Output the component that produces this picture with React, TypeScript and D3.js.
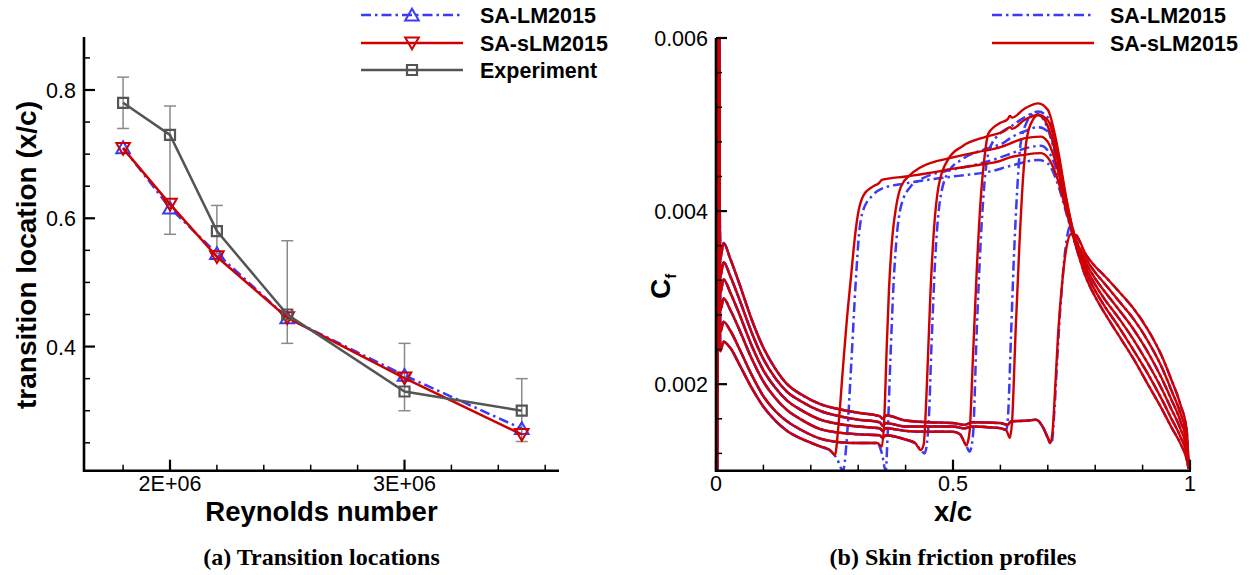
import React from "react";
import * as d3 from "d3";

// ---------------- Panel (a): transition locations ----------------
const reynolds = [1.8e6, 2.0e6, 2.2e6, 2.5e6, 3.0e6, 3.5e6];
const saLM = [0.71, 0.616, 0.545, 0.445, 0.355, 0.272];
const saSLM = [0.709, 0.622, 0.54, 0.445, 0.351, 0.263];
const experiment = [0.78, 0.73, 0.58, 0.45, 0.33, 0.30];
const expLow = [0.74, 0.575, 0.545, 0.405, 0.30, 0.252];
const expHigh = [0.82, 0.775, 0.62, 0.565, 0.405, 0.35];

const reMajor = [2e6, 3e6];
const reMajorLabels = ["2E+06", "3E+06"];
const reMinor = [1.8e6, 2.2e6, 2.4e6, 2.6e6, 2.8e6, 3.2e6, 3.4e6, 3.6e6];
const locMajor = [0.4, 0.6, 0.8];
const locMajorLabels = ["0.4", "0.6", "0.8"];
const locMinor = [0.25, 0.3, 0.35, 0.45, 0.5, 0.55, 0.65, 0.7, 0.75, 0.85];

// ---------------- Panel (b): skin friction (Cf in units of 1e-3) ----------------
const xcMajor = [0, 0.5, 1];
const xcMajorLabels = ["0", "0.5", "1"];
const xcMinor = [0.1, 0.2, 0.3, 0.4, 0.6, 0.7, 0.8, 0.9];
const cfMajor = [2, 4, 6];
const cfMajorLabels = ["0.002", "0.004", "0.006"];
const cfMinor = [1.2, 1.6, 2.4, 2.8, 3.2, 3.6, 4.4, 4.8, 5.2, 5.6];

// Re = 1.8e6
const lam18 = [[0.002, 1.0], [0.005, 7.0], [0.009, 3.45], [0.016, 3.63], [0.03, 3.45], [0.05, 3.15], [0.075, 2.75], [0.1, 2.42], [0.125, 2.18], [0.15, 2.0], [0.18, 1.88], [0.22, 1.77], [0.26, 1.71], [0.3, 1.67], [0.345, 1.63], [0.352, 1.6], [0.358, 1.64], [0.4, 1.58], [0.45, 1.56], [0.5, 1.55], [0.525, 1.53], [0.54, 1.56], [0.6, 1.55], [0.615, 1.53], [0.622, 1.57], [0.66, 1.58], [0.675, 1.59], [0.69, 1.5], [0.7, 1.38], [0.705, 1.32]];
const red18 = [[0.71, 1.45], [0.716, 2.0], [0.722, 2.6], [0.73, 3.15], [0.74, 3.6], [0.75, 3.74]];
const blue18 = [[0.708, 1.32], [0.714, 1.7], [0.72, 2.3], [0.728, 3.0], [0.738, 3.6], [0.747, 3.82]];
const tail18 = [[0.76, 3.72], [0.78, 3.5], [0.8, 3.36], [0.82, 3.25], [0.85, 3.07], [0.88, 2.88], [0.91, 2.64], [0.94, 2.33], [0.96, 2.06], [0.98, 1.76], [0.993, 1.47], [0.997, 1.05]];

// Re = 2.0e6
const lam20 = [[0.002, 1.0], [0.005, 7.0], [0.009, 3.24], [0.016, 3.41], [0.03, 3.25], [0.05, 2.97], [0.075, 2.6], [0.1, 2.29], [0.125, 2.07], [0.15, 1.91], [0.18, 1.8], [0.22, 1.69], [0.26, 1.63], [0.3, 1.59], [0.345, 1.56], [0.352, 1.52], [0.358, 1.55], [0.4, 1.51], [0.45, 1.51], [0.5, 1.51], [0.525, 1.49], [0.54, 1.51], [0.58, 1.5], [0.6, 1.49], [0.612, 1.47]];
const red20 = [[0.62, 1.38], [0.625, 1.6], [0.632, 2.6], [0.64, 3.6], [0.648, 4.4], [0.656, 4.85], [0.668, 5.05], [0.68, 5.11], [0.69, 5.08], [0.7, 4.98], [0.72, 4.6], [0.74, 4.05]];
const blue20 = [[0.616, 1.62], [0.622, 2.5], [0.628, 3.4], [0.635, 4.2], [0.642, 4.75], [0.655, 5.02], [0.672, 5.13], [0.685, 5.1], [0.7, 4.95], [0.72, 4.55], [0.74, 4.02]];
const tail20 = [[0.76, 3.66], [0.78, 3.45], [0.8, 3.29], [0.82, 3.16], [0.85, 2.96], [0.88, 2.76], [0.91, 2.51], [0.94, 2.2], [0.96, 1.94], [0.98, 1.66], [0.993, 1.4], [0.997, 1.05]];

// Re = 2.2e6
const lam22 = [[0.002, 1.0], [0.005, 7.0], [0.009, 3.05], [0.016, 3.21], [0.03, 3.06], [0.05, 2.8], [0.075, 2.45], [0.1, 2.16], [0.125, 1.96], [0.15, 1.81], [0.18, 1.7], [0.22, 1.59], [0.26, 1.54], [0.3, 1.51], [0.345, 1.49], [0.352, 1.46], [0.358, 1.49], [0.4, 1.46], [0.45, 1.45], [0.5, 1.45], [0.515, 1.42], [0.522, 1.35]];
const red22 = [[0.528, 1.29], [0.535, 1.45], [0.542, 2.3], [0.55, 3.3], [0.558, 4.1], [0.566, 4.6], [0.575, 4.9], [0.6, 5.02], [0.615, 5.06], [0.62, 5.1], [0.625, 5.08], [0.65, 5.18], [0.68, 5.245], [0.7, 5.17], [0.72, 4.75], [0.74, 4.12]];
const blue22 = [[0.528, 1.29], [0.535, 1.22], [0.542, 1.4], [0.55, 2.6], [0.558, 3.6], [0.566, 4.3], [0.576, 4.7], [0.6, 4.9], [0.62, 4.97], [0.65, 5.08], [0.68, 5.15], [0.7, 5.08], [0.72, 4.68], [0.74, 4.08]];
const tail22 = [[0.76, 3.63], [0.78, 3.4], [0.8, 3.22], [0.82, 3.07], [0.85, 2.86], [0.88, 2.64], [0.91, 2.38], [0.94, 2.07], [0.96, 1.83], [0.98, 1.57], [0.993, 1.33], [0.997, 1.04]];

// Re = 2.5e6
const lam25 = [[0.002, 1.0], [0.005, 7.0], [0.009, 2.85], [0.016, 2.99], [0.03, 2.86], [0.05, 2.62], [0.075, 2.3], [0.1, 2.03], [0.125, 1.84], [0.15, 1.7], [0.18, 1.59], [0.22, 1.48], [0.26, 1.44], [0.3, 1.42], [0.345, 1.41], [0.352, 1.38], [0.358, 1.41], [0.4, 1.36], [0.42, 1.32]];
const red25 = [[0.432, 1.24], [0.438, 1.3], [0.445, 2.0], [0.452, 3.0], [0.46, 3.8], [0.47, 4.3], [0.49, 4.6], [0.52, 4.75], [0.57, 4.86], [0.61, 4.93], [0.62, 4.97], [0.625, 4.95], [0.65, 5.05], [0.68, 5.11], [0.7, 5.05], [0.72, 4.68], [0.74, 4.1]];
const blue25 = [[0.432, 1.24], [0.44, 1.2], [0.448, 1.5], [0.455, 2.5], [0.462, 3.4], [0.472, 4.1], [0.49, 4.45], [0.52, 4.6], [0.57, 4.72], [0.61, 4.8], [0.62, 4.84], [0.65, 4.92], [0.68, 4.97], [0.7, 4.92], [0.72, 4.6], [0.74, 4.05]];
const tail25 = [[0.76, 3.62], [0.78, 3.35], [0.8, 3.15], [0.82, 2.98], [0.85, 2.76], [0.88, 2.52], [0.91, 2.25], [0.94, 1.95], [0.96, 1.72], [0.98, 1.48], [0.993, 1.26], [0.997, 1.04]];

// Re = 3.0e6
const lam30 = [[0.002, 1.0], [0.005, 7.0], [0.009, 2.6], [0.016, 2.72], [0.03, 2.62], [0.05, 2.4], [0.075, 2.11], [0.1, 1.86], [0.125, 1.69], [0.15, 1.57], [0.18, 1.47], [0.22, 1.37], [0.26, 1.33], [0.3, 1.32], [0.34, 1.32]];
const red30 = [[0.35, 1.28], [0.355, 1.6], [0.36, 2.4], [0.365, 3.1], [0.372, 3.7], [0.38, 4.05], [0.39, 4.28], [0.41, 4.42], [0.43, 4.5], [0.5, 4.62], [0.55, 4.68], [0.6, 4.74], [0.62, 4.78], [0.65, 4.84], [0.685, 4.86], [0.7, 4.8], [0.72, 4.5], [0.74, 4.02]];
const blue30 = [[0.35, 1.2], [0.358, 1.0], [0.362, 1.4], [0.368, 2.3], [0.375, 3.2], [0.382, 3.75], [0.39, 4.05], [0.41, 4.28], [0.43, 4.36], [0.5, 4.48], [0.55, 4.54], [0.6, 4.62], [0.62, 4.66], [0.65, 4.72], [0.685, 4.755], [0.7, 4.7], [0.72, 4.45], [0.74, 4.0]];
const tail30 = [[0.76, 3.6], [0.78, 3.3], [0.8, 3.08], [0.82, 2.9], [0.85, 2.66], [0.88, 2.4], [0.91, 2.13], [0.94, 1.83], [0.96, 1.61], [0.98, 1.39], [0.993, 1.19], [0.997, 1.03]];

// Re = 3.5e6
const lam35 = [[0.002, 1.0], [0.005, 7.0], [0.009, 2.38], [0.016, 2.49], [0.03, 2.42], [0.05, 2.22], [0.075, 1.96], [0.1, 1.74], [0.125, 1.58], [0.15, 1.46], [0.18, 1.37], [0.22, 1.28], [0.24, 1.24]];
const red35 = [[0.251, 1.18], [0.258, 1.5], [0.268, 2.2], [0.276, 2.74], [0.285, 3.25], [0.293, 3.7], [0.3, 3.98], [0.311, 4.18], [0.33, 4.28], [0.345, 4.33], [0.35, 4.36], [0.4, 4.4], [0.45, 4.44], [0.5, 4.49], [0.55, 4.53], [0.6, 4.58], [0.62, 4.62], [0.65, 4.65], [0.685, 4.67], [0.7, 4.62], [0.72, 4.38], [0.74, 3.98]];
const blue35 = [[0.255, 1.14], [0.268, 1.0], [0.275, 1.3], [0.285, 2.2], [0.295, 3.2], [0.302, 3.75], [0.31, 4.0], [0.33, 4.18], [0.35, 4.26], [0.4, 4.32], [0.5, 4.4], [0.58, 4.46], [0.62, 4.52], [0.68, 4.59], [0.7, 4.55], [0.72, 4.33], [0.74, 3.96]];
const tail35 = [[0.76, 3.58], [0.78, 3.24], [0.8, 3.01], [0.82, 2.82], [0.85, 2.56], [0.88, 2.3], [0.91, 2.01], [0.94, 1.72], [0.96, 1.51], [0.98, 1.31], [0.993, 1.13], [0.997, 1.02]];

const cases = [
  { lam: lam18, red: red18, blue: blue18, tail: tail18 },
  { lam: lam20, red: red20, blue: blue20, tail: tail20 },
  { lam: lam22, red: red22, blue: blue22, tail: tail22 },
  { lam: lam25, red: red25, blue: blue25, tail: tail25 },
  { lam: lam30, red: red30, blue: blue30, tail: tail30 },
  { lam: lam35, red: red35, blue: blue35, tail: tail35 },
];

const BLUE = "#3b3bf5";
const RED = "#d10000";
const GRAY = "#555555";
const ERR = "#8a8a8a";
const DASHDOT = "10,4,2.5,4";
const SANS = '"Liberation Sans", Arial, Helvetica, sans-serif';
const SERIF = '"Liberation Serif", "Times New Roman", serif';

export default function App() {
  const xa = d3.scaleLinear().domain([1.6333e6, 3.6588e6]).range([84, 559]);
  const ya = d3.scaleLinear().domain([0.2065, 0.8826]).range([470.7, 37]);
  const xb = d3.scaleLinear().domain([0, 1]).range([716, 1190]);
  const yb = d3.scaleLinear().domain([1, 6]).range([470.7, 38]);

  const lineA = d3.line<[number, number]>().x((d) => xa(d[0])).y((d) => ya(d[1]));
  const lineB = d3
    .line<number[]>()
    .x((d) => xb(d[0]))
    .y((d) => yb(d[1]))
    .curve(d3.curveMonotoneX);

  const ptsLM = reynolds.map((r, i) => [r, saLM[i]] as [number, number]);
  const ptsSLM = reynolds.map((r, i) => [r, saSLM[i]] as [number, number]);
  const ptsExp = reynolds.map((r, i) => [r, experiment[i]] as [number, number]);

  const triUp = d3.symbol(d3.symbolTriangle, 80)()!;
  const square = d3.symbol(d3.symbolSquare, 100)()!;

  const axisW = 2.6;
  const tickFont = 21.5;
  const titleFont = 27.5;

  const mUp = (x: number, y: number, key: string, color: string) => (
    <path key={key} d={triUp} transform={`translate(${x},${y + 1.5})`} fill="none" stroke={color} strokeWidth={2} />
  );
  const mDown = (x: number, y: number, key: string, color: string) => (
    <path key={key} d={triUp} transform={`translate(${x},${y - 1.5}) rotate(180)`} fill="none" stroke={color} strokeWidth={2} />
  );
  const mSq = (x: number, y: number, key: string) => (
    <path key={key} d={square} transform={`translate(${x},${y})`} fill="#ffffff" fillOpacity={0} stroke={GRAY} strokeWidth={2.2} />
  );

  return (
    <svg width={1251} height={575} style={{ position: "absolute", left: 0, top: 0, background: "#fff" }}>
      <defs>
        <clipPath id="clipB">
          <rect x={716} y={38} width={476} height={433} />
        </clipPath>
        <clipPath id="clipA">
          <rect x={84} y={37} width={476} height={434} />
        </clipPath>
      </defs>

      {/* ================= Panel (a) ================= */}
      <g clipPath="url(#clipA)">
        {reynolds.map((r, i) => (
          <g key={"eb" + i} stroke={ERR} strokeWidth={1.5}>
            <line x1={xa(r)} x2={xa(r)} y1={ya(expLow[i])} y2={ya(expHigh[i])} />
            <line x1={xa(r) - 6} x2={xa(r) + 6} y1={ya(expLow[i])} y2={ya(expLow[i])} />
            <line x1={xa(r) - 6} x2={xa(r) + 6} y1={ya(expHigh[i])} y2={ya(expHigh[i])} />
          </g>
        ))}
        <path d={lineA(ptsLM)!} fill="none" stroke={BLUE} strokeWidth={2.5} strokeDasharray={DASHDOT} />
        {ptsLM.map((p, i) => mUp(xa(p[0]), ya(p[1]), "u" + i, BLUE))}
        <path d={lineA(ptsSLM)!} fill="none" stroke={RED} strokeWidth={2.5} />
        {ptsSLM.map((p, i) => mDown(xa(p[0]), ya(p[1]), "d" + i, RED))}
        <path d={lineA(ptsExp)!} fill="none" stroke={GRAY} strokeWidth={2.5} />
        {ptsExp.map((p, i) => mSq(xa(p[0]), ya(p[1]), "s" + i))}
      </g>

      {/* axes (a) */}
      <g stroke="#000" strokeWidth={1.5}>
        {locMajor.map((v) => (
          <line key={"lm" + v} x1={84} x2={95} y1={ya(v)} y2={ya(v)} strokeWidth={2.2} />
        ))}
        {locMinor.map((v) => (
          <line key={"ln" + v} x1={84} x2={90} y1={ya(v)} y2={ya(v)} />
        ))}
        {reMajor.map((v) => (
          <line key={"rm" + v} x1={xa(v)} x2={xa(v)} y1={470.7} y2={459.7} strokeWidth={2.2} />
        ))}
        {reMinor.map((v) => (
          <line key={"rn" + v} x1={xa(v)} x2={xa(v)} y1={470.7} y2={464.7} />
        ))}
      </g>
      <line x1={84} x2={84} y1={37} y2={472} stroke="#000" strokeWidth={axisW} />
      <line x1={83} x2={559} y1={470.7} y2={470.7} stroke="#000" strokeWidth={axisW} />
      <g fontFamily={SANS} fontSize={tickFont} fill="#000">
        {locMajor.map((v, i) => (
          <text key={"lt" + v} x={76} y={ya(v) + 8} textAnchor="end">{locMajorLabels[i]}</text>
        ))}
        {reMajor.map((v, i) => (
          <text key={"rt" + v} x={xa(v)} y={491} textAnchor="middle">{reMajorLabels[i]}</text>
        ))}
      </g>
      <text x={321.5} y={521} textAnchor="middle" fontFamily={SANS} fontWeight="bold" fontSize={titleFont}>Reynolds number</text>
      <text transform="translate(36,255) rotate(-90)" textAnchor="middle" fontFamily={SANS} fontWeight="bold" fontSize={28}>transition location (x/c)</text>
      <text x={321.5} y={565} textAnchor="middle" fontFamily={SERIF} fontWeight="bold" fontSize={24}>(a) Transition locations</text>

      {/* legend (a) */}
      <g>
        <line x1={361} x2={463} y1={15} y2={15} stroke={BLUE} strokeWidth={2.5} strokeDasharray={DASHDOT} />
        {mUp(412, 15, "lg1", BLUE)}
        <line x1={361} x2={463} y1={43} y2={43} stroke={RED} strokeWidth={2.5} />
        {mDown(412, 43, "lg2", RED)}
        <line x1={361} x2={463} y1={70} y2={70} stroke={GRAY} strokeWidth={2.5} />
        {mSq(412, 70, "lg3")}
        <g fontFamily={SANS} fontWeight="bold" fontSize={21.5}>
          <text x={480} y={22.7}>SA-LM2015</text>
          <text x={480} y={50.7}>SA-sLM2015</text>
          <text x={480} y={77.7}>Experiment</text>
        </g>
      </g>

      {/* ================= Panel (b) ================= */}
      <g clipPath="url(#clipB)" fill="none" strokeLinejoin="round">
        {cases.map((c, i) => (
          <path key={"b" + i} d={lineB([...c.lam, ...c.blue, ...c.tail])!} stroke={BLUE} strokeWidth={2.5} strokeDasharray={DASHDOT} />
        ))}
        {cases.map((c, i) => (
          <path key={"bl" + i} d={lineB(c.lam)!} stroke={BLUE} strokeWidth={2.5} />
        ))}
        {cases.map((c, i) => (
          <path key={"r" + i} d={lineB([...c.lam, ...c.red, ...c.tail])!} stroke={RED} strokeWidth={2.4} />
        ))}
      </g>

      {/* axes (b) */}
      <g stroke="#000" strokeWidth={1.5}>
        {cfMajor.map((v) => (
          <line key={"cm" + v} x1={716} x2={727} y1={yb(v)} y2={yb(v)} strokeWidth={2.2} />
        ))}
        {cfMinor.map((v) => (
          <line key={"cn" + v} x1={716} x2={722} y1={yb(v)} y2={yb(v)} />
        ))}
        {xcMajor.map((v) => (
          <line key={"xm" + v} x1={xb(v)} x2={xb(v)} y1={470.7} y2={459.7} strokeWidth={2.2} />
        ))}
        {xcMinor.map((v) => (
          <line key={"xn" + v} x1={xb(v)} x2={xb(v)} y1={470.7} y2={464.7} />
        ))}
      </g>
      <line x1={716} x2={716} y1={38} y2={472} stroke="#000" strokeWidth={axisW} />
      <line x1={715} x2={1191} y1={470.7} y2={470.7} stroke="#000" strokeWidth={axisW} />
      <g fontFamily={SANS} fontSize={tickFont} fill="#000">
        {cfMajor.map((v, i) => (
          <text key={"ct" + v} x={708} y={yb(v) + 8} textAnchor="end">{cfMajorLabels[i]}</text>
        ))}
        {xcMajor.map((v, i) => (
          <text key={"xt" + v} x={xb(v)} y={491} textAnchor="middle">{xcMajorLabels[i]}</text>
        ))}
      </g>
      <text x={953} y={521} textAnchor="middle" fontFamily={SANS} fontWeight="bold" fontSize={titleFont}>x/c</text>
      <text transform="translate(670,299) rotate(-90)" fontFamily={SANS} fontWeight="bold" fontSize={28}>
        C<tspan fontSize={15} dy={6}>f</tspan>
      </text>
      <text x={953} y={565} textAnchor="middle" fontFamily={SERIF} fontWeight="bold" fontSize={24}>(b) Skin friction profiles</text>

      {/* legend (b) */}
      <g>
        <line x1={992} x2={1094} y1={15} y2={15} stroke={BLUE} strokeWidth={2.5} strokeDasharray={DASHDOT} />
        <line x1={992} x2={1094} y1={43} y2={43} stroke={RED} strokeWidth={2.5} />
        <g fontFamily={SANS} fontWeight="bold" fontSize={21.5}>
          <text x={1110} y={22.7}>SA-LM2015</text>
          <text x={1110} y={50.7}>SA-sLM2015</text>
        </g>
      </g>
    </svg>
  );
}
